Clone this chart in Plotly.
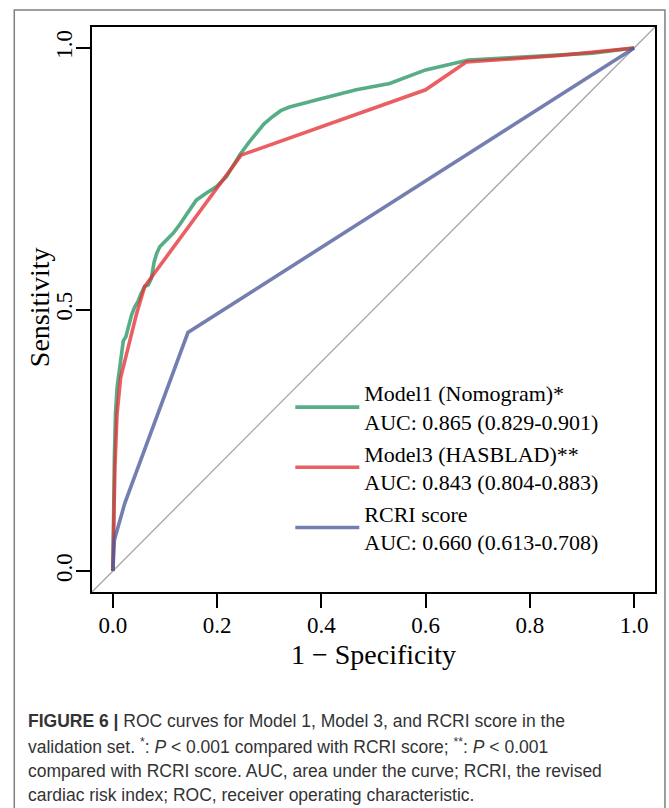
import plotly.graph_objects as go

# ---------------- data ----------------
fpr_model1 = [0, 0.001, 0.003, 0.005, 0.008, 0.012, 0.016, 0.020, 0.025, 0.030, 0.036, 0.042,
              0.048, 0.054, 0.061, 0.068, 0.074, 0.079, 0.084, 0.090, 0.097, 0.105, 0.116,
              0.128, 0.141, 0.160, 0.179, 0.199, 0.218, 0.243, 0.260, 0.275, 0.290, 0.307,
              0.322, 0.339, 0.370, 0.403, 0.467, 0.531, 0.600, 0.640, 0.682, 0.760, 0.846,
              0.920, 1.0]
sens_model1 = [0, 0.10, 0.22, 0.30, 0.35, 0.38, 0.41, 0.44, 0.448, 0.47, 0.49, 0.505,
               0.515, 0.53, 0.544, 0.547, 0.560, 0.590, 0.607, 0.620, 0.627, 0.635, 0.646,
               0.662, 0.681, 0.709, 0.722, 0.735, 0.754, 0.795, 0.818, 0.837, 0.855, 0.869,
               0.880, 0.887, 0.896, 0.904, 0.920, 0.932, 0.958, 0.968, 0.977, 0.981, 0.985,
               0.990, 1.0]

fpr_model3 = [0, 0.001, 0.004, 0.008, 0.015, 0.030, 0.045, 0.061, 0.246, 0.600, 0.678, 0.850, 1.0]
sens_model3 = [0, 0.05, 0.20, 0.30, 0.37, 0.43, 0.49, 0.544, 0.795, 0.920, 0.973, 0.985, 1.0]

fpr_rcri = [0, 0.003, 0.023, 0.144, 1.0]
sens_rcri = [0, 0.06, 0.13, 0.456, 1.0]

diag_x = [-0.04, 1.04]
diag_y = [-0.04, 1.04]

series_names = [
    "Model1 (Nomogram)*<br>AUC: 0.865 (0.829-0.901)",
    "Model3 (HASBLAD)**<br>AUC: 0.843 (0.804-0.883)",
    "RCRI score<br>AUC: 0.660 (0.613-0.708)",
]
series_colors = ["rgba(40,150,100,0.78)", "rgba(228,50,55,0.78)", "rgba(75,90,155,0.78)"]

x_ticks = [0, 0.2, 0.4, 0.6, 0.8, 1.0]
x_ticktext = ["0.0", "0.2", "0.4", "0.6", "0.8", "1.0"]
y_ticks = [0, 0.5, 1.0]
y_ticktext = ["0.0", "0.5", "1.0"]

caption_lines = [
    "<b>FIGURE 6 |</b> ROC curves for Model 1, Model 3, and RCRI score in the",
    "validation set. <sup>*</sup>: <i>P</i> &lt; 0.001 compared with RCRI score; <sup>**</sup>: <i>P</i> &lt; 0.001",
    "compared with RCRI score. AUC, area under the curve; RCRI, the revised",
    "cardiac risk index; ROC, receiver operating characteristic.",
]

# ---------------- figure ----------------
W, H = 669, 808
ML, MR, MT, MB = 92, 12, 27, 216
PW = W - ML - MR
PH = H - MT - MB

serif = "Liberation Serif"
fig = go.Figure()

fig.add_trace(go.Scatter(x=diag_x, y=diag_y, mode="lines",
                         line=dict(color="#A6A6A6", width=1.3),
                         showlegend=False, hoverinfo="skip"))

for xs, ys, name, col in [(fpr_model1, sens_model1, series_names[0], series_colors[0]),
                          (fpr_model3, sens_model3, series_names[1], series_colors[1]),
                          (fpr_rcri, sens_rcri, series_names[2], series_colors[2])]:
    fig.add_trace(go.Scatter(x=xs, y=ys, mode="lines", name=name,
                             line=dict(color=col, width=3.6)))


def px_x(px):
    return (px - ML) / PW


def px_y(py):
    return (H - MB - py) / PH


# outer frame
fig.add_shape(type="rect", xref="paper", yref="paper",
              x0=px_x(14), x1=px_x(667), y0=px_y(815), y1=px_y(10),
              line=dict(color="#7F7F7F", width=1.5), fillcolor="rgba(0,0,0,0)")

caption_y = [721, 746, 771, 795]
for line, yy in zip(caption_lines, caption_y):
    fig.add_annotation(text=line, xref="paper", yref="paper",
                       x=px_x(26), y=px_y(yy), xanchor="left", yanchor="middle",
                       showarrow=False,
                       font=dict(family="Liberation Sans", size=17.5, color="#333333"))

# y-axis title
fig.add_annotation(text="Sensitivity", xref="paper", yref="paper",
                   x=px_x(39), y=px_y(307), xanchor="center", yanchor="middle",
                   textangle=-90, showarrow=False,
                   font=dict(family=serif, size=28, color="black"))

fig.update_layout(
    width=W, height=H,
    margin=dict(l=ML, r=MR, t=MT, b=MB),
    paper_bgcolor="white", plot_bgcolor="white",
    font=dict(family=serif, color="black"),
    legend=dict(x=px_x(291), y=px_y(372), xanchor="left", yanchor="top",
                font=dict(family=serif, size=22, color="black"),
                bgcolor="rgba(0,0,0,0)", itemwidth=64, tracegroupgap=0),
    xaxis=dict(range=[-0.04, 1.04], tickvals=x_ticks, ticktext=x_ticktext,
               ticks="outside", ticklen=14, tickwidth=1.5, tickcolor="black",
               showline=True, linecolor="black", linewidth=2, mirror=True,
               showgrid=False, zeroline=False, ticklabelstandoff=-3,
               tickfont=dict(family=serif, size=23, color="black"),
               title=dict(text="1 \u2212 Specificity", font=dict(family=serif, size=28, color="black"),
                          standoff=8)),
    yaxis=dict(range=[-0.04, 1.04], tickvals=y_ticks, ticktext=y_ticktext,
               ticks="outside", ticklen=14, tickwidth=1.5, tickcolor="black",
               showline=True, linecolor="black", linewidth=2, mirror=True,
               showgrid=False, zeroline=False, tickangle=-90, ticklabelstandoff=-5,
               tickfont=dict(family=serif, size=23, color="black")),
)

fig.write_html("out.html")
